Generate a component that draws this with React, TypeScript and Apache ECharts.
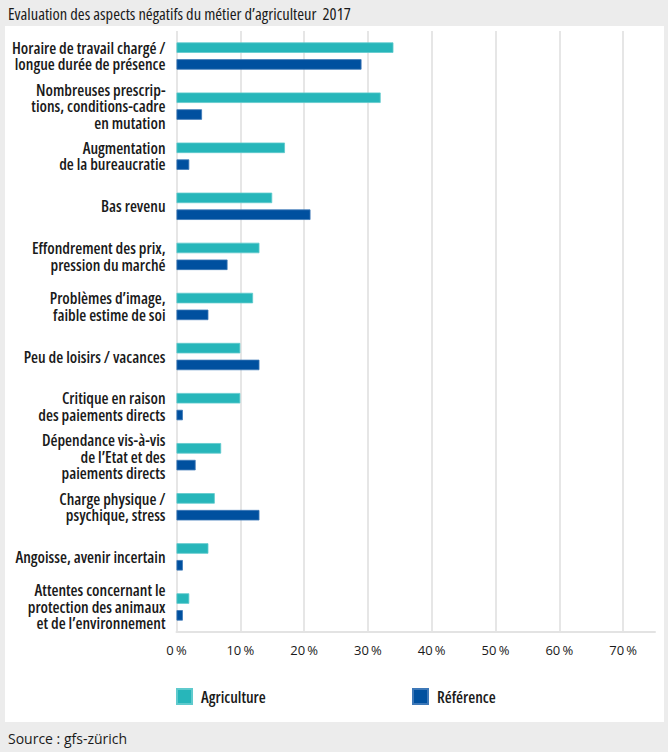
import React, { useEffect, useRef } from "react";
import * as echarts from "echarts";

const categories = [
  "Horaire de travail chargé /\nlongue durée de présence",
  "Nombreuses prescrip-\ntions, conditions-cadre\nen mutation",
  "Augmentation\nde la bureaucratie",
  "Bas revenu",
  "Effondrement des prix,\npression du marché",
  "Problèmes d’image,\nfaible estime de soi",
  "Peu de loisirs / vacances",
  "Critique en raison\ndes paiements directs",
  "Dépendance vis-à-vis\nde l’Etat et des\npaiements directs",
  "Charge physique /\npsychique, stress",
  "Angoisse, avenir incertain",
  "Attentes concernant le\nprotection des animaux\net de l’environnement",
];
const agriculture = [34, 32, 17, 15, 13, 12, 10, 10, 7, 6, 5, 2];
const reference = [29, 4, 2, 21, 8, 5, 13, 1, 3, 13, 1, 1];
const seriesNames = ["Agriculture", "Référence"];
const title = "Evaluation des aspects négatifs du métier d’agriculteur  2017";
const source = "Source : gfs-zürich";

const condensed = (pct: number) => `Open Sans;font-stretch:${pct}%`;
const TEXT = "#1a1a1a";

export default function App() {
  const ref = useRef<HTMLDivElement>(null);
  useEffect(() => {
    const chart = echarts.init(ref.current!, null, { renderer: "svg" });
    chart.setOption({
      animation: false,
      backgroundColor: "#ececec",
      title: {
        text: title,
        left: 3,
        top: 2,
        textStyle: { fontSize: 16.5, fontWeight: 500, color: TEXT, fontFamily: condensed(75) },
      },
      graphic: [
        { type: "rect", shape: { x: 5, y: 26, width: 659, height: 696 }, style: { fill: "#ffffff" }, z: -10 },
        {
          type: "text",
          x: 8,
          y: 732,
          style: { text: source, fontSize: 14, fontWeight: 400, fill: TEXT, fontFamily: condensed(90) },
        },
      ],
      legend: [
        {
          data: [seriesNames[0]],
          left: 176,
          top: 688,
          padding: 0,
          icon: "rect",
          itemWidth: 15,
          itemHeight: 15,
          textStyle: { fontSize: 16, fontWeight: 600, color: TEXT, fontFamily: condensed(75), padding: [0, 0, 0, 4] },
        },
        {
          data: [seriesNames[1]],
          left: 412,
          top: 688,
          padding: 0,
          icon: "rect",
          itemWidth: 15,
          itemHeight: 15,
          textStyle: { fontSize: 16, fontWeight: 600, color: TEXT, fontFamily: condensed(75), padding: [0, 0, 0, 4] },
        },
      ],
      grid: { left: 176.5, right: 13, top: 31, bottom: 120, containLabel: false, outerBoundsMode: "none" },
      xAxis: {
        type: "value",
        min: 0,
        max: 75,
        interval: 10,
        axisLine: { show: true, lineStyle: { color: "#e3e3e3", width: 2 } },
        axisTick: { show: false },
        splitLine: { show: true, showMaxLine: false, lineStyle: { color: "#e6e6e6", width: 2 } },
        axisLabel: {
          margin: 11,
          fontSize: 13,
          color: TEXT,
          fontFamily: "Open Sans",
          formatter: (v: number) => (v > 70 ? "" : v + "\u2009%"),
        },
      },
      yAxis: {
        type: "category",
        data: categories,
        inverse: true,
        axisLine: { show: false },
        axisTick: { show: false },
        axisLabel: {
          interval: 0,
          margin: 11,
          fontSize: 16,
          fontWeight: 600,
          fontFamily: condensed(75),
          lineHeight: 16.5,
          color: TEXT,
          align: "right",
        },
      },
      series: [
        {
          name: seriesNames[0],
          type: "bar",
          data: agriculture,
          barWidth: 10.5,
          barGap: "60%",
          itemStyle: { color: "#27b6ba", borderColor: "#5fcacd", borderWidth: 0.8 },
        },
        {
          name: seriesNames[1],
          type: "bar",
          data: reference,
          barWidth: 10.5,
          barGap: "60%",
          itemStyle: { color: "#00509f", borderColor: "#3d78b8", borderWidth: 0.8 },
        },
      ],
    });
    return () => chart.dispose();
  }, []);
  return <div ref={ref} style={{ position: "absolute", left: 0, top: 0, width: 668, height: 752 }} />;
}
